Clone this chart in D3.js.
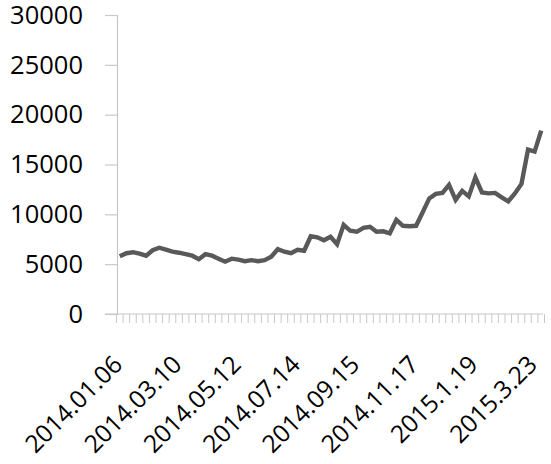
<!DOCTYPE html>
<html>
<head>
<meta charset="utf-8">
<script src="https://cdn.jsdelivr.net/npm/d3@7"></script>
<style>
  html, body { margin: 0; padding: 0; background: #fff; }
  svg { display: block; }
  text { font-family: "Open Sans", "Liberation Sans", sans-serif; fill: #000; }
</style>
</head>
<body>
<svg id="chart" width="551" height="464"></svg>
<script>
const categories = [
  "2014.01.06","2014.01.13","2014.01.20","2014.01.27","2014.02.03","2014.02.10","2014.02.17","2014.02.24",
  "2014.03.03","2014.03.10","2014.03.17","2014.03.24","2014.03.31","2014.04.07","2014.04.14","2014.04.21",
  "2014.04.28","2014.05.05","2014.05.12","2014.05.19","2014.05.26","2014.06.02","2014.06.09","2014.06.16",
  "2014.06.23","2014.06.30","2014.07.07","2014.07.14","2014.07.21","2014.07.28","2014.08.04","2014.08.11",
  "2014.08.18","2014.08.25","2014.09.01","2014.09.08","2014.09.15","2014.09.22","2014.09.29","2014.10.06",
  "2014.10.13","2014.10.20","2014.10.27","2014.11.03","2014.11.10","2014.11.17","2014.11.24","2014.12.01",
  "2014.12.08","2014.12.15","2014.12.22","2014.12.29","2015.1.5","2015.1.12","2015.1.19","2015.1.26",
  "2015.2.2","2015.2.9","2015.2.16","2015.2.23","2015.3.2","2015.3.9","2015.3.16","2015.3.23","2015.3.30"
];
const values = [
  5800, 6100, 6200, 6050, 5850, 6400, 6650, 6450, 6250, 6150,
  6000, 5850, 5500, 6000, 5850, 5550, 5250, 5550, 5450, 5300,
  5400, 5300, 5400, 5750, 6500, 6250, 6100, 6450, 6350, 7800,
  7700, 7400, 7750, 7000, 8950, 8350, 8250, 8650, 8750, 8250,
  8300, 8100, 9450, 8850, 8800, 8850, 10200, 11600, 12050, 12150,
  12950, 11450, 12350, 11800, 13700, 12200, 12100, 12150, 11700, 11300,
  12100, 13050, 16500, 16300, 18400
];
const tickLabels = ["2014.01.06","2014.03.10","2014.05.12","2014.07.14","2014.09.15","2014.11.17","2015.1.19","2015.3.23"];
const yTicks = [0, 5000, 10000, 15000, 20000, 25000, 30000];

const svg = d3.select("#chart");
const plotLeft = 117, plotRight = 543, plotTop = 15, plotBottom = 314;

const x = d3.scaleBand().domain(categories).range([116.5, 544.5]).paddingInner(0).paddingOuter(0);
const y = d3.scaleLinear().domain([0, 30000]).range([plotBottom, plotTop]);
const axisColor = "#c8c8c8";

// Y axis
const yAxis = d3.axisLeft(y).tickValues(yTicks).tickSize(12).tickPadding(22).tickFormat(d3.format("d"));
const gy = svg.append("g").attr("transform", `translate(${plotLeft},0)`).call(yAxis);
gy.select(".domain").attr("stroke", axisColor).attr("stroke-width", 1.2);
gy.selectAll(".tick line").attr("stroke", axisColor).attr("stroke-width", 1.2);
gy.selectAll(".tick text").attr("font-size", 25.5).attr("font-family", "'Open Sans', sans-serif").attr("fill", "#000");

// X axis baseline
svg.append("line").attr("x1", 105).attr("x2", plotRight).attr("y1", plotBottom).attr("y2", plotBottom)
  .attr("stroke", axisColor).attr("stroke-width", 1.2);

// X minor ticks at category boundaries
const boundaries = categories.map(c => x(c)).concat([x(categories[categories.length - 1]) + x.bandwidth()]);
svg.append("g").selectAll("line").data(boundaries).join("line")
  .attr("x1", d => d).attr("x2", d => d).attr("y1", plotBottom).attr("y2", plotBottom + 9)
  .attr("stroke", axisColor).attr("stroke-width", 1);

// X labels
const cx = c => x(c) + x.bandwidth() / 2;
svg.append("g").selectAll("text").data(tickLabels).join("text")
  .attr("transform", d => `translate(${cx(d) + 4},${plotBottom + 52}) rotate(-45)`)
  .attr("text-anchor", "end")
  .attr("font-size", 24.5)
  .text(d => d);

// Line
const line = d3.line().x((d, i) => cx(categories[i])).y(d => y(d));
svg.append("path").datum(values)
  .attr("d", line)
  .attr("fill", "none")
  .attr("stroke", "#595959")
  .attr("stroke-width", 4.4)
  .attr("stroke-linejoin", "miter");
</script>
</body>
</html>
